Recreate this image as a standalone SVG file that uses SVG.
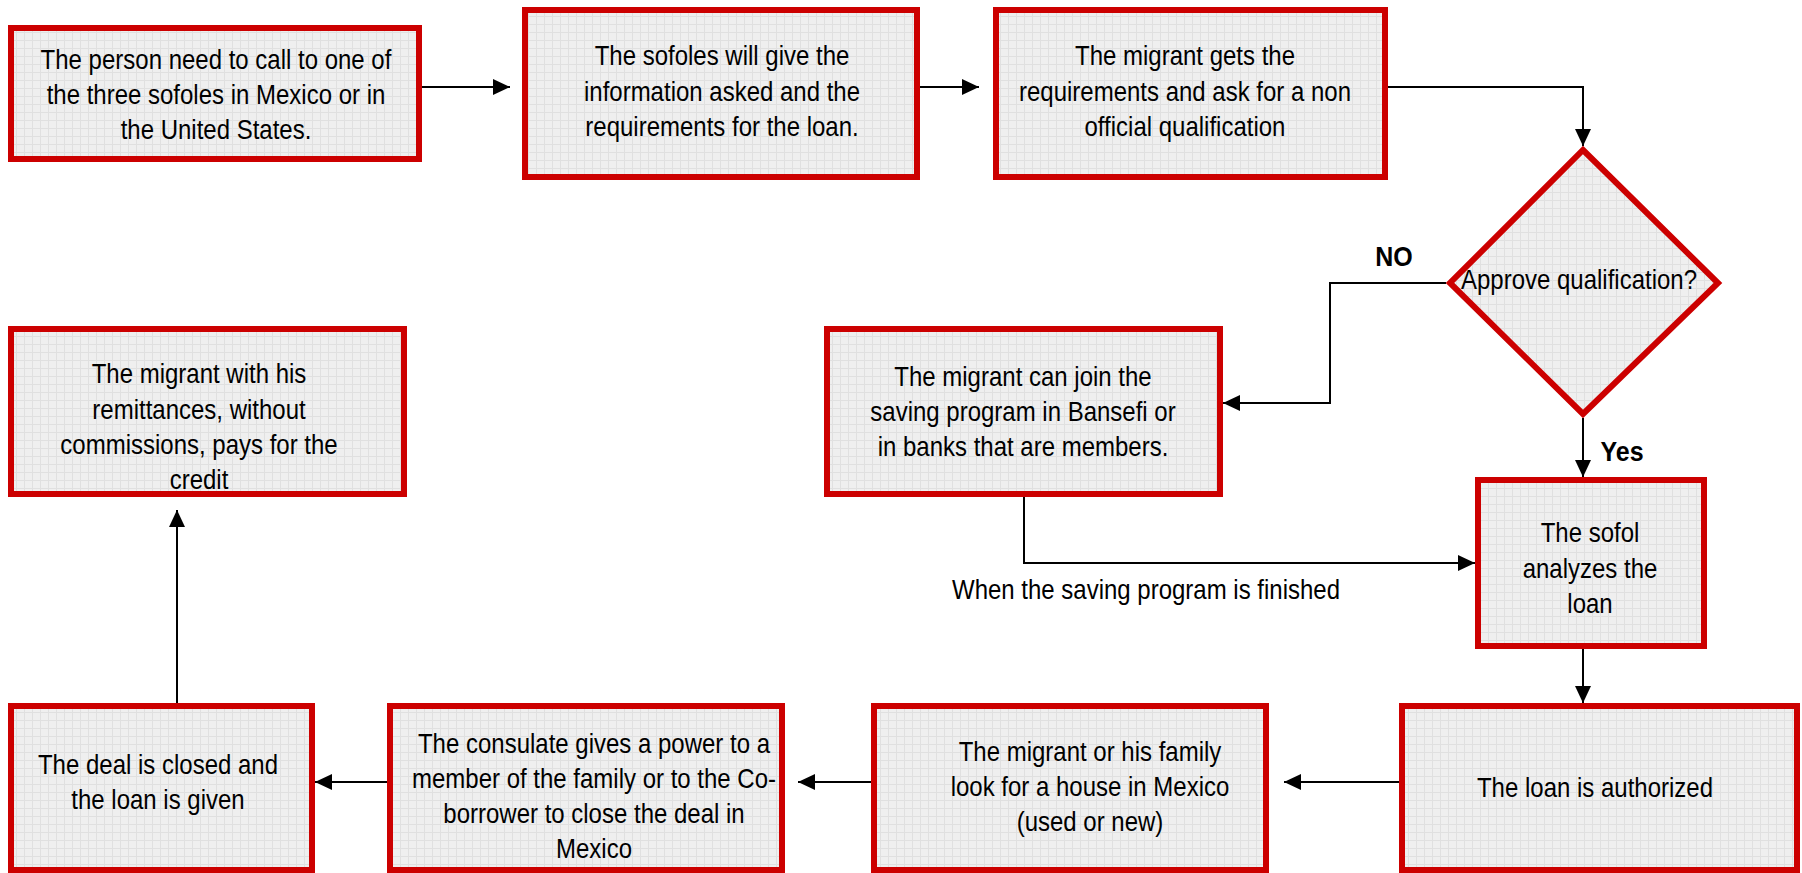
<svg xmlns="http://www.w3.org/2000/svg" width="1802" height="873" viewBox="0 0 1802 873">
<style>
.box{fill:url(#grid);stroke:#cc0000;stroke-width:6}
.t{font-family:"Liberation Sans",Arial,sans-serif;font-size:24px;fill:#000;text-anchor:middle;transform-box:fill-box;transform-origin:center;transform:scale(1,1.12)}
.b{font-weight:bold;font-size:25px}
.c{fill:none;stroke:#000;stroke-width:2}
</style>
<defs>
<pattern id="grid" width="8" height="8" patternUnits="userSpaceOnUse">
<rect width="8" height="8" fill="#efefef"/>
<path d="M0 0.5H8M0.5 0V8" stroke="#e0e0e0" stroke-width="1"/>
</pattern>
<marker id="ah" markerWidth="17" markerHeight="16" refX="17" refY="8" orient="auto" markerUnits="userSpaceOnUse">
<path d="M0,0 L17,8 L0,16 z" fill="#000"/>
</marker>
</defs>
<rect width="1802" height="873" fill="#fff"/>
<g id="connectors">
<path class="c" d="M422 87H510" marker-end="url(#ah)"/>
<path class="c" d="M920 87H979" marker-end="url(#ah)"/>
<path class="c" d="M1388 87H1583V146" marker-end="url(#ah)"/>
<path class="c" d="M1446 283H1330V403H1223" marker-end="url(#ah)"/>
<path class="c" d="M1583 418V477" marker-end="url(#ah)"/>
<path class="c" d="M1024 497V563H1475" marker-end="url(#ah)"/>
<path class="c" d="M1583 649V703" marker-end="url(#ah)"/>
<path class="c" d="M1399 782H1284" marker-end="url(#ah)"/>
<path class="c" d="M871 782H798" marker-end="url(#ah)"/>
<path class="c" d="M387 782H315" marker-end="url(#ah)"/>
<path class="c" d="M177 703V510" marker-end="url(#ah)"/>
<text class="t b" x="1394" y="265">NO</text>
<text class="t b" x="1622" y="460">Yes</text>
<text class="t" x="1146" y="598">When the saving program is finished</text>
</g>
<g id="n1">
<rect class="box" x="11" y="28" width="408" height="131"/>
<text class="t" x="216" y="68">The person need to call to one of</text>
<text class="t" x="216" y="103">the three sofoles in Mexico or in</text>
<text class="t" x="216" y="138">the United States.</text>
</g>
<g id="n2">
<rect class="box" x="525" y="10" width="392" height="167"/>
<text class="t" x="722" y="64">The sofoles will give the</text>
<text class="t" x="722" y="99.5">information asked and the</text>
<text class="t" x="722" y="135">requirements for the loan.</text>
</g>
<g id="n3">
<rect class="box" x="996" y="10" width="389" height="167"/>
<text class="t" x="1185" y="64">The migrant gets the</text>
<text class="t" x="1185" y="99.5">requirements and ask for a non</text>
<text class="t" x="1185" y="135">official qualification</text>
</g>
<g id="n4">
<polygon class="box" points="1583,150 1718,283 1583,414 1450,283"/>
<text class="t" x="1579" y="288">Approve qualification?</text>
</g>
<g id="n5">
<rect class="box" x="827" y="329" width="393" height="165"/>
<text class="t" x="1023" y="385">The migrant can join the</text>
<text class="t" x="1023" y="420">saving program in Bansefi or</text>
<text class="t" x="1023" y="455">in banks that are members.</text>
</g>
<g id="n6">
<rect class="box" x="1478" y="480" width="226" height="166"/>
<text class="t" x="1590" y="541">The sofol</text>
<text class="t" x="1590" y="577">analyzes the</text>
<text class="t" x="1590" y="612">loan</text>
</g>
<g id="n7">
<rect class="box" x="1402" y="706" width="395" height="164"/>
<text class="t" x="1595" y="796">The loan is authorized</text>
</g>
<g id="n8">
<rect class="box" x="874" y="706" width="392" height="164"/>
<text class="t" x="1090" y="760">The migrant or his family</text>
<text class="t" x="1090" y="795">look for a house in Mexico</text>
<text class="t" x="1090" y="830">(used or new)</text>
</g>
<g id="n9">
<rect class="box" x="390" y="706" width="392" height="164"/>
<text class="t" x="594" y="752">The consulate gives a power to a</text>
<text class="t" x="594" y="787">member of the family or to the Co-</text>
<text class="t" x="594" y="822">borrower to close the deal in</text>
<text class="t" x="594" y="857">Mexico</text>
</g>
<g id="n10">
<rect class="box" x="11" y="706" width="301" height="164"/>
<text class="t" x="158" y="773">The deal is closed and</text>
<text class="t" x="158" y="808">the loan is given</text>
</g>
<g id="n11">
<rect class="box" x="11" y="329" width="393" height="165"/>
<text class="t" x="199" y="382">The migrant with his</text>
<text class="t" x="199" y="417.5">remittances, without</text>
<text class="t" x="199" y="453">commissions, pays for the</text>
<text class="t" x="199" y="488">credit</text>
</g>
</svg>
